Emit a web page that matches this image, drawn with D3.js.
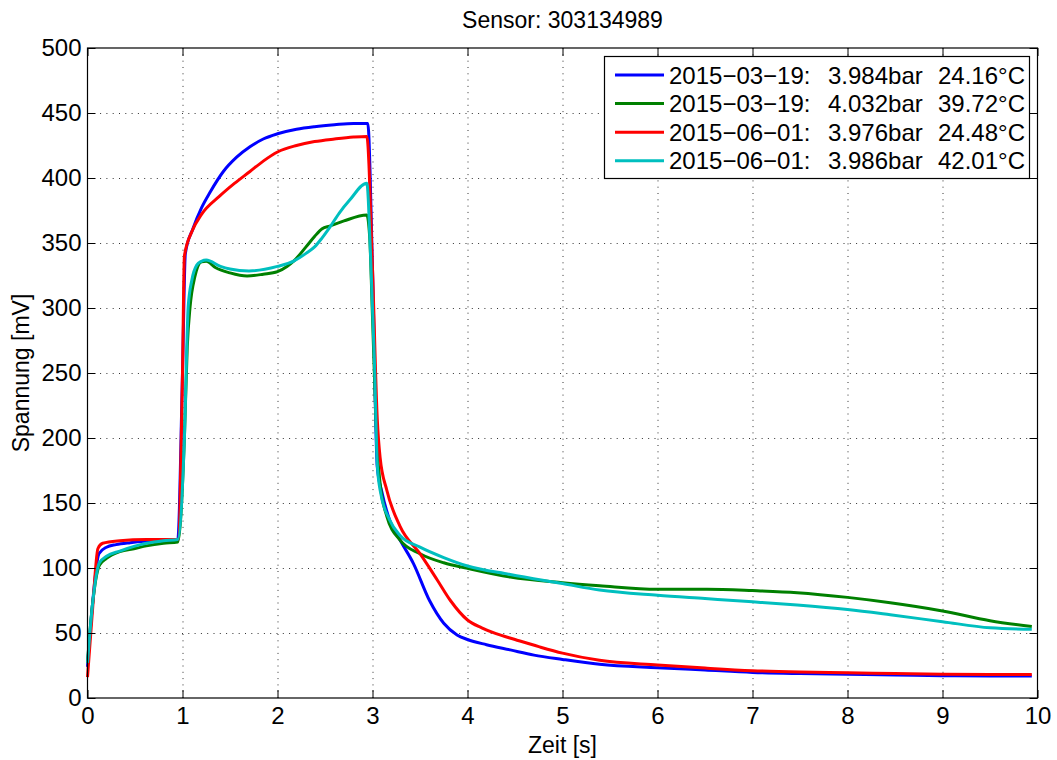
<!DOCTYPE html>
<meta charset="utf-8">
<style>
body { margin: 0; background: #fff; }
text { font-family: "Liberation Sans", Arial, Helvetica, sans-serif; fill: #000; }
.grid line { stroke: #333; stroke-width: 1; stroke-dasharray: 1,5.3; }
.axis line { stroke: #000; }
.axis text { font-size: 24px; }
.curve { fill: none; stroke-width: 3; stroke-linejoin: round; }
</style>
<svg width="1057" height="760"></svg>
<script src="https://d3js.org/d3.v7.min.js"></script>
<script>

var title = "Sensor: 303134989";
var xTicks = [0, 1, 2, 3, 4, 5, 6, 7, 8, 9, 10];
var yTicks = [0, 50, 100, 150, 200, 250, 300, 350, 400, 450, 500];

var seriesNames = [
  ["2015\u221203\u221219:", "3.984bar", "24.16\u00b0C"],
  ["2015\u221203\u221219:", "4.032bar", "39.72\u00b0C"],
  ["2015\u221206\u221201:", "3.976bar", "24.48\u00b0C"],
  ["2015\u221206\u221201:", "3.986bar", "42.01\u00b0C"]
];
var seriesColors = ["#0000ff", "#008000", "#ff0000", "#00bfbf"];

// [Zeit s, Spannung mV]
var blue = [[0,24],[0.05,70],[0.12,111],[0.2,116],[0.3,118],[0.45,119.5],[0.6,120.5],[0.8,121],[0.95,121.5],
  [1.0,250],[1.03,342],[1.11,361],[1.2,377],[1.29,389],[1.43,405],[1.57,416],[1.71,424],[1.85,430],[2.0,434],
  [2.2,437.5],[2.39,439.5],[2.6,441],[2.8,442],[2.95,442],[3.0,330],[3.05,178],[3.1,158],[3.18,137],[3.29,121.5],
  [3.43,103.6],[3.6,75],[3.75,57.5],[3.89,48.5],[4.0,45],[4.2,41],[4.45,37],[4.7,33],[5.0,29.7],[5.39,26],
  [6,23.3],[6.5,21.5],[7,19.7],[7.5,18.8],[8,18.2],[8.5,17.7],[9,17.2],[9.5,17],[9.94,17]];

var green = [[0,27],[0.05,70],[0.125,102],[0.2,107.4],[0.34,112.6],[0.5,115],[0.62,117],[0.8,119],[0.95,120],
  [1.02,200],[1.05,270],[1.08,301],[1.13,324],[1.2,335.6],[1.25,336],[1.35,331],[1.5,327],[1.68,324.6],[1.85,326],
  [2.0,328],[2.1,332],[2.17,336],[2.3,347],[2.39,355],[2.47,361],[2.55,363],[2.7,367],[2.94,371.5],[2.97,355],
  [3.0,293],[3.05,191],[3.08,165],[3.15,140],[3.29,121.5],[3.5,111],[3.75,104],[4.0,99.7],[4.45,93],[5.0,88.7],
  [5.39,86.4],[6,83.6],[6.52,83.6],[7,82.6],[7.47,81],[8,77.4],[8.45,73.3],[9,67],[9.5,59.5],[9.94,55]];

var red = [[0,16],[0.05,65],[0.11,115],[0.16,119],[0.34,121],[0.62,122],[0.95,122],[1.0,250],[1.02,340],
  [1.1,359],[1.2,372],[1.39,386],[1.55,396],[1.71,405],[1.85,413],[2.0,420],[2.2,425],[2.39,428],[2.6,430],
  [2.8,431.5],[2.94,432],[3.0,330],[3.05,215],[3.08,185],[3.15,160],[3.29,132],[3.5,111],[3.68,91],[3.82,75],
  [4.0,60],[4.15,54],[4.3,49.5],[4.5,45],[4.75,39.5],[5.0,34.5],[5.39,29],[6,25.4],[6.5,23],[7,21],[7.5,20],
  [8,19.5],[8.5,18.8],[9,18.2],[9.5,18],[9.94,18]];

var cyan = [[0,27],[0.05,70],[0.125,104],[0.2,109],[0.34,113],[0.62,119],[0.8,121],[0.95,122],[1.02,200],
  [1.06,301],[1.1,322],[1.15,333],[1.2,336],[1.25,337],[1.4,332],[1.5,330],[1.7,328.5],[2.0,332],[2.17,336],
  [2.3,342],[2.39,347],[2.47,354],[2.55,362],[2.65,373],[2.76,383],[2.94,396],[2.98,340],[3.02,260],[3.05,180],
  [3.08,160],[3.18,137],[3.29,125],[3.5,116],[3.75,108],[4.0,101.5],[4.45,95],[5.0,88],[5.39,83],[6,79],
  [6.5,76.5],[7,74],[7.47,71.5],[8,68],[8.45,64],[9,58.7],[9.5,54],[9.94,52.8]];

var series = [blue, green, red, cyan];

var svg = d3.select("svg"),
    width = +svg.attr("width"),
    height = +svg.attr("height");

var margin = {top: 48, right: 19.5, bottom: 62, left: 87.5};

var x = d3.scaleLinear()
    .domain([0, 10])
    .range([margin.left, width - margin.right]);

var y = d3.scaleLinear()
    .domain([0, 500])
    .range([height - margin.bottom, margin.top]);

// grid
var grid = svg.append("g").attr("class", "grid");
grid.selectAll(".gx")
  .data(xTicks.slice(1, -1))
  .enter().append("line")
    .attr("x1", function(d) { return x(d) + 0.5; })
    .attr("x2", function(d) { return x(d) + 0.5; })
    .attr("y1", y(0))
    .attr("y2", y(500));
grid.selectAll(".gy")
  .data(yTicks.slice(1, -1))
  .enter().append("line")
    .attr("y1", function(d) { return y(d) + 0.5; })
    .attr("y2", function(d) { return y(d) + 0.5; })
    .attr("x1", x(0))
    .attr("x2", x(10));

// curves
var line = d3.line()
    .curve(d3.curveMonotoneX)
    .x(function(d) { return x(d[0]); })
    .y(function(d) { return y(d[1]); });

svg.append("g")
  .selectAll("path")
  .data(series)
  .enter().append("path")
    .attr("class", "curve")
    .attr("stroke", function(d, i) { return seriesColors[i]; })
    .attr("d", line);

// axes, ticks pointing inward on all four sides
svg.append("g")
    .attr("class", "axis")
    .attr("transform", "translate(0," + y(0) + ")")
    .call(d3.axisBottom(x).tickValues(xTicks).tickSizeInner(-8).tickSizeOuter(0).tickPadding(9))
  .select(".domain").remove();

svg.append("g")
    .attr("class", "axis")
    .attr("transform", "translate(0," + y(500) + ")")
    .call(d3.axisTop(x).tickValues(xTicks).tickSizeInner(-8).tickSizeOuter(0).tickFormat(""))
  .select(".domain").remove();

svg.append("g")
    .attr("class", "axis")
    .attr("transform", "translate(" + x(0) + ",0)")
    .call(d3.axisLeft(y).tickValues(yTicks).tickSizeInner(-8).tickSizeOuter(0).tickPadding(6))
  .select(".domain").remove();

svg.append("g")
    .attr("class", "axis")
    .attr("transform", "translate(" + x(10) + ",0)")
    .call(d3.axisRight(y).tickValues(yTicks).tickSizeInner(-8).tickSizeOuter(0).tickFormat(""))
  .select(".domain").remove();

svg.append("rect")
    .attr("x", x(0))
    .attr("y", y(500))
    .attr("width", x(10) - x(0))
    .attr("height", y(0) - y(500))
    .attr("fill", "none")
    .attr("stroke", "#000")
    .attr("stroke-width", 1.2);

// labels
svg.append("text")
    .attr("x", (x(0) + x(10)) / 2)
    .attr("y", 28)
    .attr("text-anchor", "middle")
    .attr("font-size", 23)
    .text(title);

svg.append("text")
    .attr("x", (x(0) + x(10)) / 2)
    .attr("y", 753)
    .attr("text-anchor", "middle")
    .attr("font-size", 23)
    .text("Zeit [s]");

svg.append("text")
    .attr("transform", "translate(29," + (y(0) + y(500)) / 2 + ") rotate(-90)")
    .attr("text-anchor", "middle")
    .attr("font-size", 23)
    .text("Spannung [mV]");

// legend
var lg = svg.append("g").attr("class", "legend");
lg.append("rect")
    .attr("x", 604.5)
    .attr("y", 56.5)
    .attr("width", 425)
    .attr("height", 122)
    .attr("fill", "#fff")
    .attr("stroke", "#000")
    .attr("stroke-width", 1.2);

var rows = lg.selectAll(".row")
  .data(seriesNames)
  .enter().append("g")
    .attr("transform", function(d, i) { return "translate(0," + (75 + i * 28.6) + ")"; });

rows.append("line")
    .attr("x1", 615).attr("x2", 664)
    .attr("stroke", function(d, i) { return seriesColors[i]; })
    .attr("stroke-width", 3);

var lt = rows.append("text")
    .attr("y", 8.5)
    .attr("font-size", 24);
lt.append("tspan").attr("x", 669).text(function(d) { return d[0]; });
lt.append("tspan").attr("x", 828).text(function(d) { return d[1]; });
lt.append("tspan").attr("x", 938).text(function(d) { return d[2]; });

</script>
